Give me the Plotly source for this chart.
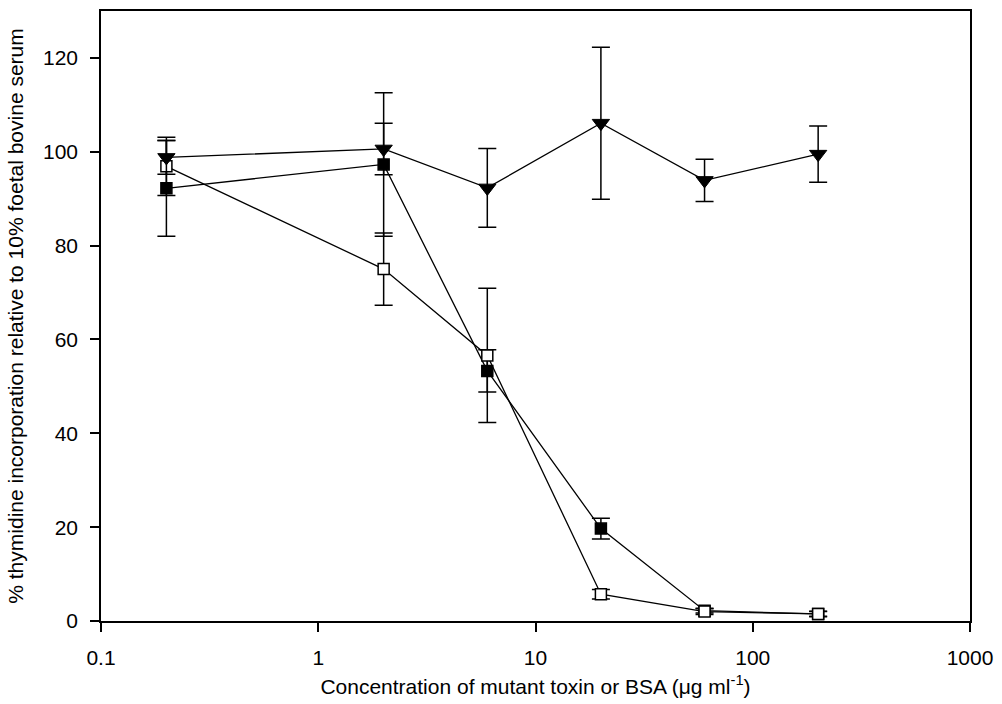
import plotly.graph_objects as go

conc = [0.2, 2, 6, 20, 60, 200]

bsa_mean = [98.8, 100.6, 92.3, 106.1, 93.9, 99.5]
bsa_err = [3.6, 5.5, 8.4, 16.2, 4.5, 6.0]

filled_mean = [92.2, 97.3, 53.3, 19.7, 2.2, 1.5]
filled_err = [10.2, 15.3, 4.5, 2.2, 0.5, 0.5]

open_mean = [96.9, 75.0, 56.6, 5.7, 2.0, 1.5]
open_err = [6.2, 7.7, 14.3, 1.0, 0.6, 0.6]

x_ticks = [0.1, 1, 10, 100, 1000]
x_tick_text = ["0.1", "1", "10", "100", "1000"]
y_ticks = [0, 20, 40, 60, 80, 100, 120]

FONT = "Liberation Sans, Arial, sans-serif"

def err(vals):
    return dict(type="data", array=vals, visible=True, color="black",
                thickness=1.5, width=9)

fig = go.Figure()
fig.add_trace(go.Scatter(
    x=conc, y=filled_mean, mode="lines+markers",
    line=dict(color="black", width=1.3),
    marker=dict(symbol="square", size=11, color="black",
                line=dict(color="black", width=1.5)),
    error_y=err(filled_err), showlegend=False))
fig.add_trace(go.Scatter(
    x=conc, y=open_mean, mode="lines+markers",
    line=dict(color="black", width=1.3),
    marker=dict(symbol="square", size=11, color="white",
                line=dict(color="black", width=1.5)),
    error_y=err(open_err), showlegend=False))
fig.add_trace(go.Scatter(
    x=conc, y=bsa_mean, mode="lines+markers",
    line=dict(color="black", width=1.3),
    marker=dict(symbol="triangle-down", size=15, color="black",
                line=dict(color="black", width=1)),
    error_y=err(bsa_err), showlegend=False))

fig.update_layout(
    width=1002, height=704,
    margin=dict(l=101, r=25, t=9, b=81),
    paper_bgcolor="white", plot_bgcolor="white",
    font=dict(family=FONT, color="black", size=21),
)
fig.update_xaxes(
    type="log", range=[-1, 3],
    tickvals=x_ticks, ticktext=x_tick_text,
    ticks="outside", ticklen=9, tickwidth=1.5, tickcolor="black",
    showline=True, linecolor="black", linewidth=1.5, mirror=True,
    showgrid=False, zeroline=False,
    tickfont=dict(size=21, family=FONT),
    ticklabelstandoff=8,
    title=dict(text="Concentration of mutant toxin or BSA (\u03bcg ml<sup>-1</sup>)",
               font=dict(size=21, family=FONT), standoff=11),
)
fig.update_yaxes(
    range=[0, 130],
    tickvals=y_ticks,
    ticks="outside", ticklen=9, tickwidth=1.5, tickcolor="black",
    showline=True, linecolor="black", linewidth=1.5, mirror=True,
    showgrid=False, zeroline=False,
    tickfont=dict(size=21, family=FONT),
    ticklabelstandoff=8,
    title=dict(text="% thymidine incorporation relative to 10% foetal bovine serum",
               font=dict(size=21, family=FONT), standoff=14),
)

fig.write_html("out.html",
               config={"displayModeBar": False, "responsive": False},
               post_script="document.body.style.margin='0';document.body.style.overflow='hidden';")
